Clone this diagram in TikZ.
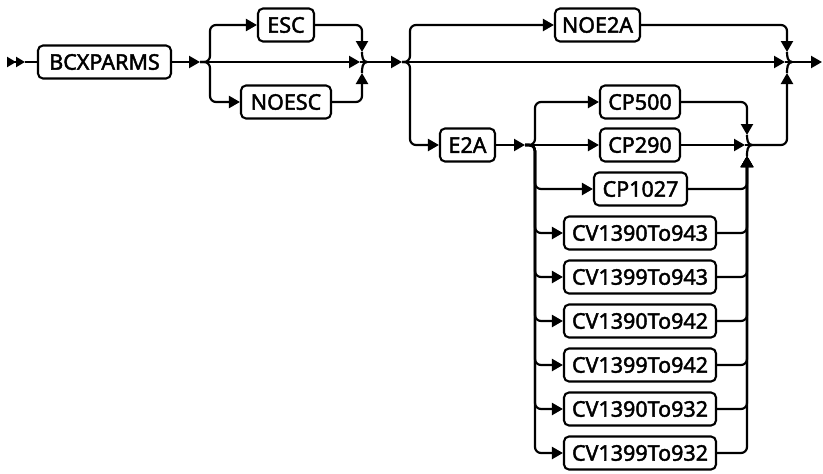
\documentclass[tikz,border=0pt]{standalone}
\usepackage{fontspec}
\newfontfamily\boxfont{Noto Sans}[FakeBold=2]
\usetikzlibrary{arrows.meta}
\tikzset{
  rr/.style={draw, line width=2.1pt, rounded corners=5pt, inner sep=0pt,
    minimum height=33pt, font=\boxfont\fontsize{21.5}{22}\selectfont},
  ln/.style={line width=2.2pt},
  arr/.style={ln, -{Triangle[length=11pt,width=12pt]}},
  rc/.style={rounded corners=6pt},
}
\begin{document}
\begin{tikzpicture}[x=1pt,y=1pt]
\useasboundingbox (0,0) rectangle (823,-474);
% nodes
\node[rr, minimum width=133pt] (bcx) at (104.5,-62) {BCXPARMS};
\node[rr, minimum width=56pt] (esc) at (286,-25) {ESC};
\node[rr, minimum width=90pt] (noesc) at (286,-102) {NOESC};
\node[rr, minimum width=85pt] (noe2a) at (597.5,-25) {NOE2A};
\node[rr, minimum width=55pt] (e2a) at (467.5,-145) {E2A};
\node[rr, minimum width=80pt] (cp500) at (640,-102) {CP500};
\node[rr, minimum width=80pt] (cp290) at (640,-145) {CP290};
\node[rr, minimum width=93pt] (cp1027) at (640.5,-189) {CP1027};
\node[rr, minimum width=152pt] (cva) at (640,-233) {CV1390To943};
\node[rr, minimum width=152pt] (cvb) at (640,-277) {CV1399To943};
\node[rr, minimum width=152pt] (cvc) at (640,-321) {CV1390To942};
\node[rr, minimum width=152pt] (cvd) at (640,-365) {CV1399To942};
\node[rr, minimum width=152pt] (cve) at (640,-409) {CV1390To932};
\node[rr, minimum width=152pt] (cvf) at (640,-453) {CV1399To932};
% coordinates
\coordinate (s) at (7,-62);
\coordinate (s2) at (25,-62);
\coordinate (a1) at (200,-62);
\coordinate (b1) at (210,-62);
\coordinate (m1h) at (360,-62);
\coordinate (m1t) at (362,-52);
\coordinate (m1b) at (362,-73);
\coordinate (m1) at (367,-62);
\coordinate (a2) at (402,-62);
\coordinate (b2) at (410,-62);
\coordinate (m2h) at (785,-62);
\coordinate (m2t) at (787,-52);
\coordinate (m2b) at (787,-73);
\coordinate (m2) at (792,-62);
\coordinate (e) at (822,-62);
\coordinate (a3) at (525,-145);
\coordinate (b3) at (535,-145);
\coordinate (m3h) at (745,-145);
\coordinate (m3t) at (747,-135);
\coordinate (m3b) at (747,-156);
\coordinate (m3) at (752,-145);
% start
\draw[ln, -{Triangle[length=9pt,width=10pt]Triangle[length=9pt,width=10pt]}] (s) -- (s2);
\draw[ln] (s2) -- (bcx.west);
\draw[arr] (bcx.east) -- (a1);
% choice 1
\draw[arr,rc] (a1) -| (b1 |- esc.west) -- (esc.west);
\draw[arr,rc] (a1) -| (b1 |- noesc.west) -- (noesc.west);
\draw[arr] (a1) -- (m1h);
\draw[arr,rc] (esc.east) -| (m1t);
\draw[arr,rc] (noesc.east) -| (m1b);
\draw[ln] (m1t) to[out=-90,in=180] (m1);
\draw[ln] (m1b) to[out=90,in=180] (m1);
\draw[ln] (m1h) -- (m1);
\draw[arr] (m1) -- (a2);
% choice 2
\draw[arr,rc] (a2) -| (b2 |- noe2a.west) -- (noe2a.west);
\draw[arr,rc] (a2) -| (b2 |- e2a.west) -- (e2a.west);
\draw[arr] (a2) -- (m2h);
\draw[arr,rc] (noe2a.east) -| (m2t);
\draw[arr] (e2a.east) -- (a3);
% inner choice
\draw[arr,rc] (a3) -| (b3 |- cp500.west) -- (cp500.west);
\draw[arr] (a3) -- (cp290.west);
\foreach \n in {cp1027,cva,cvb,cvc,cvd,cve,cvf}{
  \draw[arr,rc] (a3) -| (b3 |- \n.west) -- (\n.west);
  \draw[arr,rc] (\n.east) -| (m3b);
}
\draw[arr,rc] (cp500.east) -| (m3t);
\draw[arr] (cp290.east) -- (m3h);
\draw[ln] (m3t) to[out=-90,in=180] (m3);
\draw[ln] (m3b) to[out=90,in=180] (m3);
\draw[ln] (m3h) -- (m3);
\draw[arr,rc] (m3) -| (m2b);
\draw[ln] (m2t) to[out=-90,in=180] (m2);
\draw[ln] (m2b) to[out=90,in=180] (m2);
\draw[ln] (m2h) -- (m2);
\draw[arr] (m2) -- (e);
\end{tikzpicture}
\end{document}
